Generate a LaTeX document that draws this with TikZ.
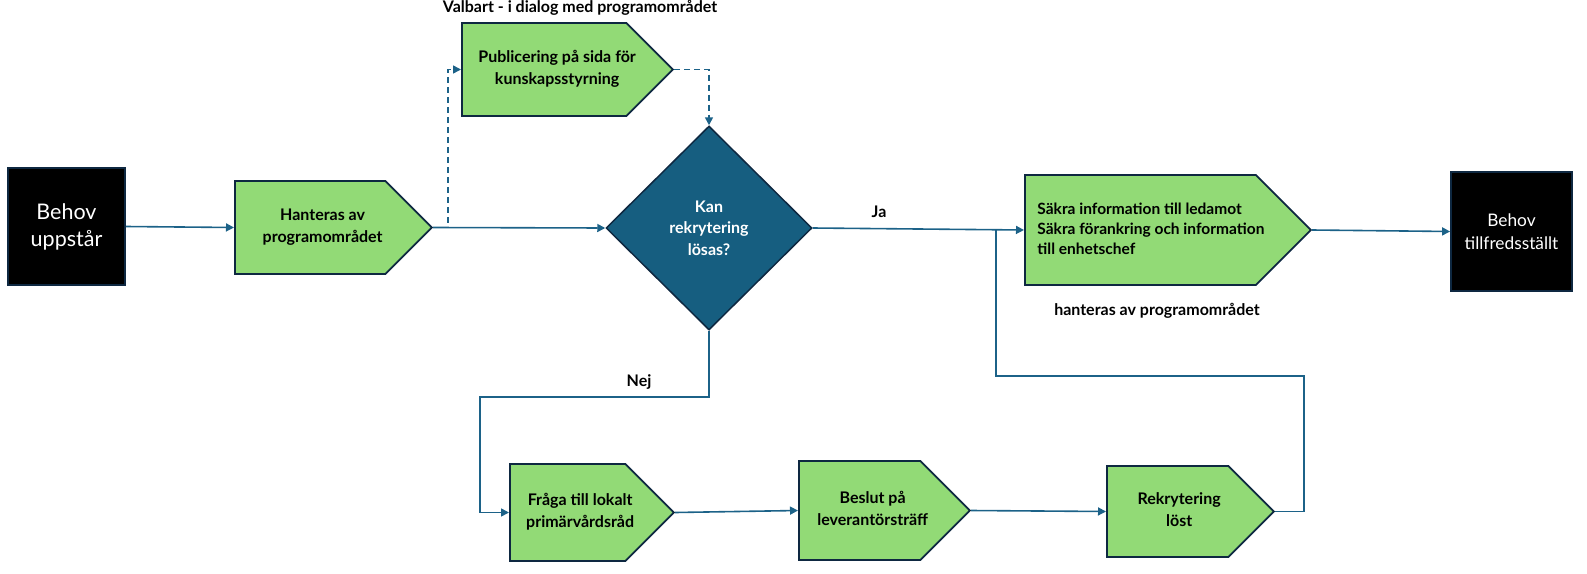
\documentclass[tikz,border=0pt]{standalone}
\usepackage{fontspec}
\setmainfont{Lato}
\usetikzlibrary{shapes.symbols,shapes.geometric,arrows.meta}
\definecolor{gfill}{RGB}{146,218,118}
\definecolor{dblue}{RGB}{22,94,128}
\definecolor{lblue}{RGB}{28,98,136}
\definecolor{navy}{RGB}{14,40,65}
\newcommand\ptxt[3][c]{\hspace*{#2}\begin{tabular}{@{}#1@{}}#3\end{tabular}\hspace*{-#2}}
\tikzset{
  pent/.style={signal, signal to=east, signal from=nowhere, signal pointer angle=90,
    draw=navy, line width=1.8pt, fill=gfill, inner sep=0pt, anchor=west,
    font=\bfseries\fontsize{16}{22}\selectfont},
  blackbox/.style={draw=navy, line width=1.8pt, fill=black, text=white, inner sep=0pt, align=center},
  decision/.style={diamond, draw=navy, line width=1.5pt, fill=dblue, text=white, inner sep=0pt,
    align=center, font=\bfseries\fontsize{16}{21.5}\selectfont},
  conn/.style={draw=lblue, line width=1.6pt, -{Triangle[length=8pt,width=8pt]}},
  plainconn/.style={draw=lblue, line width=1.6pt},
  dconn/.style={conn, dash pattern=on 6pt off 4pt},
  lbl/.style={font=\bfseries\fontsize{16}{18}\selectfont, inner sep=0pt}
}
\begin{document}
\begin{tikzpicture}[x=1pt,y=-1pt]
\useasboundingbox (0,0) rectangle (1587,573);
\node[blackbox, minimum width=117pt, minimum height=117pt, font=\fontsize{21.5}{27}\selectfont] (beh) at (66.5,226.5) {Behov\\uppstår};
\node[pent, minimum width=197pt, minimum height=93pt] (han) at (234,227.5) {\ptxt{12.5pt}{Hanteras av\\programområdet}};
\node[pent, minimum width=211pt, minimum height=93pt] (pub) at (461,69.5) {\ptxt{13pt}{Publicering på sida för\\kunskapsstyrning}};
\node[decision, minimum width=206pt, minimum height=204pt] (dia) at (709,228) {Kan\\rekrytering\\lösas?};
\node[pent, minimum width=286pt, minimum height=110pt, font=\bfseries\fontsize{15.5}{20}\selectfont] (sak) at (1024,230) {\ptxt[l]{10.5pt}{Säkra information till ledamot\\Säkra förankring och information\\till enhetschef}};
\node[blackbox, minimum width=121pt, minimum height=119pt, font=\fontsize{17.3}{23}\selectfont] (bt) at (1511.5,231.5) {Behov\\tillfredsställt};
\node[pent, minimum width=164pt, minimum height=97pt] (fra) at (509,512.5) {\ptxt{12.5pt}{Fråga till lokalt\\primärvårdsråd}};
\node[pent, minimum width=171pt, minimum height=99pt] (bes) at (798,510.5) {\ptxt{13pt}{Beslut på\\leverantörsträff}};
\node[pent, minimum width=167pt, minimum height=91pt] (rek) at (1106,511.5) {\ptxt{11.5pt}{Rekrytering\\löst}};
\node[lbl] (title) at (580,8) {Valbart - i dialog med programområdet};
\node[lbl] (ja) at (879,212) {Ja};
\node[lbl] (nej) at (639,382) {Nej};
\node[lbl] (hap) at (1157,311) {hanteras av programområdet};
\coordinate (n1) at (480,397);
\coordinate (r1) at (1304,376);
\coordinate (r2) at (996,376);
\draw[conn] (beh.east) -- (han.west);
\draw[conn] (han.east) -- (dia.west);
\draw[dconn] (han.east) -- ++(15,0) |- (pub.west);
\draw[dconn] (pub.east) -| (dia.north);
\draw[conn] (dia.east) -- (sak.west);
\draw[conn] (sak.east) -- (bt.west);
\draw[conn] (dia.south) |- (n1) |- (fra.west);
\draw[conn] (fra.east) -- (bes.west);
\draw[conn] (bes.east) -- (rek.west);
\draw[plainconn] (rek.east) -| (r1) -- (r2) -- (r2 |- sak.west);
\end{tikzpicture}
\end{document}
